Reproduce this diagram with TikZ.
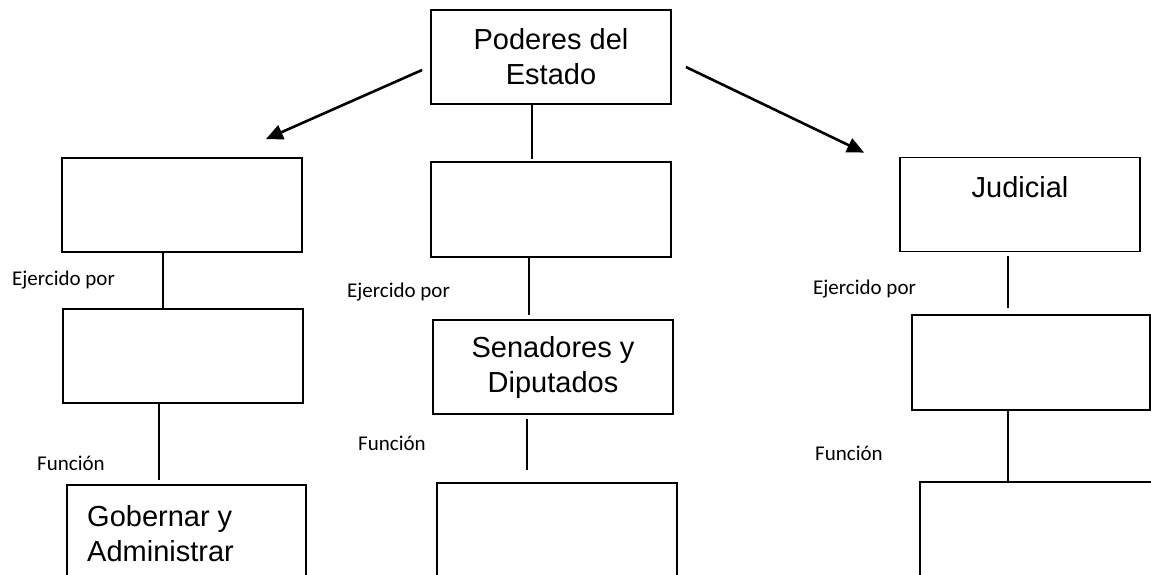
\documentclass[tikz,border=0pt]{standalone}
\usepackage{fontspec}
\setmainfont{Liberation Sans}
\newfontfamily\calib{Carlito}
\usetikzlibrary{arrows.meta}
\begin{document}
\begin{tikzpicture}[x=1pt,y=-1pt,
  box/.style={draw=black,line width=1.8pt,minimum width=240pt,minimum height=94pt,inner sep=0pt,align=center,
    font=\fontsize{29}{35}\selectfont},
  bigtext/.style={font=\fontsize{29}{35}\selectfont,inner sep=0pt},
  small/.style={font=\calib\fontsize{21}{25}\selectfont,inner sep=0pt,anchor=west},
  link/.style={draw=black,line width=1.2pt},
  arrow/.style={draw=black,line width=2.6pt,-{Triangle[length=17pt,width=15pt]}}]
\clip (0,0) rectangle (1151,575);
\fill[white] (0,0) rectangle (1151,575);
% boxes
\node[box] (top) at (551,57) {Poderes del\\Estado};
\node[box] (lb1) at (182,205) {};
\node[box] (lb2) at (183,356) {};
\node[box,minimum width=239pt,minimum height=130pt] (lb3) at (186.5,550) {};
\node[bigtext,align=left,anchor=west] (gobtext) at (87,534) {Gobernar y\\Administrar};
\node[box,minimum height=95pt] (mb1) at (551,209.5) {};
\node[box] (mb2) at (553,367) {Senadores y\\Diputados};
\node[box,minimum height=130pt] (mb3) at (557,548) {};
\node[box] (rb1) at (1020,204.5) {Judicial\\\mbox{}};
\node[box,minimum width=238pt,minimum height=95pt] (rb2) at (1031,362.5) {};
\node[box,minimum height=130pt] (rb3) at (1040,547) {};
% labels
\node[small] (e1) at (12,280) {Ejercido por};
\node[small] (e2) at (347,292) {Ejercido por};
\node[small] (e3) at (813,289) {Ejercido por};
\node[small] (f1) at (37,463) {Función};
\node[small] (f2) at (358,443) {Función};
\node[small] (f3) at (815,453) {Función};
% connectors
\draw[link,shorten >=2pt] ([xshift=-19pt]top.south) -- ([xshift=-19pt]mb1.north);
\draw[link] ([xshift=-19pt]lb1.south) -- ([xshift=-20pt]lb2.north);
\draw[link,shorten >=4pt] ([xshift=-24pt]lb2.south) -- ([xshift=-27.5pt]lb3.north);
\draw[link,shorten >=4pt] ([xshift=-22pt]mb1.south) -- ([xshift=-24pt]mb2.north);
\draw[link,shorten <=4pt,shorten >=12pt] ([xshift=-26pt]mb2.south) -- ([xshift=-30pt]mb3.north);
\draw[link,shorten <=4pt,shorten >=6pt] ([xshift=-12pt]rb1.south) -- ([xshift=-23pt]rb2.north);
\draw[link] ([xshift=-23pt]rb2.south) -- ([xshift=-32pt]rb3.north);
% arrows
\draw[arrow] ([xshift=-8pt,yshift=-13pt]top.west) -- ([xshift=-37pt,yshift=18pt]lb1.north east);
\draw[arrow] ([xshift=14pt,yshift=-10pt]top.east) -- ([xshift=-35pt,yshift=4pt]rb1.north west);
\end{tikzpicture}
\end{document}
